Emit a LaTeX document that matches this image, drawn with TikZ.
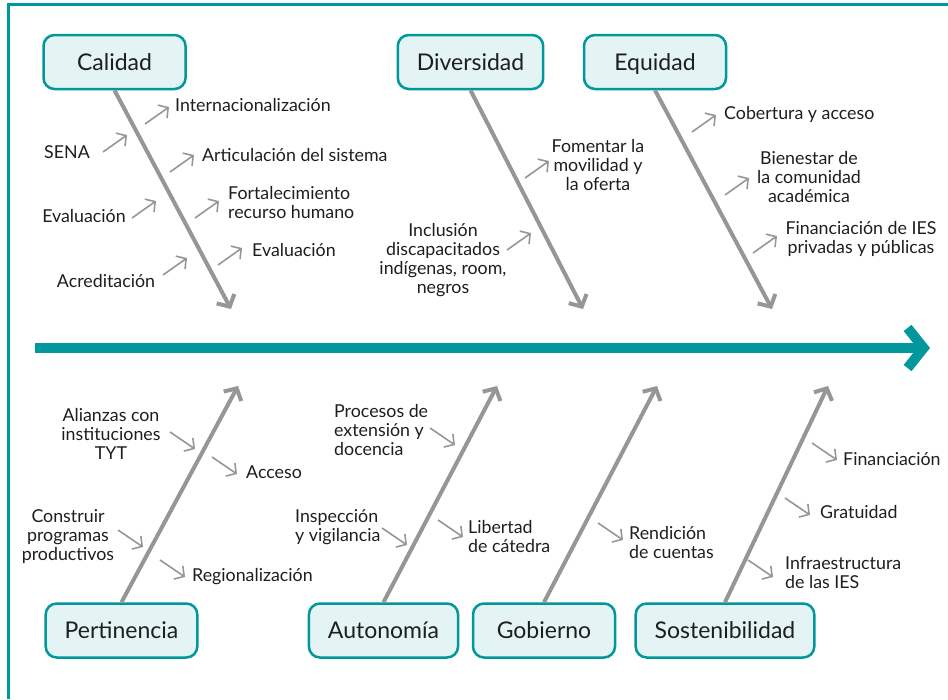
\documentclass[tikz,border=0pt]{standalone}
\usepackage{fontspec}
\setmainfont{Lato}
\usetikzlibrary{arrows.meta}
\definecolor{fbteal}{RGB}{0,151,157}
\definecolor{fblight}{RGB}{228,244,244}
\definecolor{fbgray}{RGB}{150,150,150}
\definecolor{fbtext}{RGB}{30,30,30}

\begin{document}
\begin{tikzpicture}[x=1pt,y=-1pt,
  topic/.style={draw=fbteal,line width=2.5pt,fill=fblight,rounded corners=11pt,
    minimum height=54pt,minimum width=142pt,inner xsep=19pt,
    text height=17pt,text depth=1pt,
    font=\fontsize{23}{27}\selectfont,text=fbtext},
  lbl/.style={font=\fontsize{17.8}{19}\selectfont,text=fbtext,inner sep=0pt,align=center},
  lbll/.style={lbl,align=left,anchor=west},
  bone/.style={draw=fbgray,line width=4pt,-{Straight Barb[length=9pt,width=20pt]}},
  twig/.style={draw=fbgray,line width=1.6pt,-{Straight Barb[length=7pt,width=16pt]}},
  spine/.style={draw=fbteal,line width=10pt,-{Straight Barb[length=16pt,width=40pt]}}]
\useasboundingbox (0,0) rectangle (948,699);
% frame
\draw[fbteal,line width=3pt] (8,699) -- (8,4.5) -- (948,4.5);
% main spine
\coordinate (spL) at (35,348);
\coordinate (spR) at (930,348);
\draw[spine] (spL) -- (spR);
% topics
\node[topic] (cal) at (114.5,62) {Calidad};
\node[topic] (div) at (470.5,62) {Diversidad};
\node[topic] (equ) at (655,62) {Equidad};
\node[topic] (per) at (121.5,630.5) {Pertinencia};
\node[topic] (aut) at (383.5,630.5) {Autonomía};
\node[topic] (gob) at (544,630.5) {Gobierno};
\node[topic] (sos) at (725,630.5) {Sostenibilidad};
% bones
\coordinate (calT) at (231,309);
\coordinate (divT) at (583,309);
\coordinate (equT) at (772,309);
\coordinate (perT) at (238,386);
\coordinate (autT) at (497,386);
\coordinate (gobT) at (657,386);
\coordinate (sosT) at (828,386);
\draw[bone] (cal.south) -- (calT);
\draw[bone] (div.south) -- (divT);
\draw[bone] (equ.south) -- (equT);
\draw[bone] (per.north) -- (perT);
\draw[bone] (aut.north) -- (autT);
\draw[bone] (gob.north) -- (gobT);
\draw[bone] (sos.north) -- (sosT);
% twigs, upper half
\foreach \n/\x/\y in {intl/145/124,sena/103/152,art/170/172,evl/132/218,fort/195/218,
    evr/218/265,acr/163/275,fom/525/178,inc/507/250,cob/692/132,bie/725/195,finE/753/253}
  {\coordinate (\n0) at (\x,\y);
   \draw[twig] (\n0) -- ++(24,-17) coordinate (\n1);}
% twigs, lower half
\foreach \n/\x/\y in {ali/170/432,acc/212/457,con/118/530,reg/160/560,pro/430/428,
    ins/382/528,lib/438/520,ren/598/523,finS/812/443,gra/785/498,inf/748/560}
  {\coordinate (\n0) at (\x,\y);
   \draw[twig] (\n0) -- ++(25,17) coordinate (\n1);}
% labels: Calidad
\node[lbll] (intlL) at (175,105) {Internacionalización};
\node[lbl] (senaL) at (67,152) {SENA};
\node[lbll] (artL) at (202,155) {Articulación del sistema};
\node[lbl] (evlL) at (84,216) {Evaluación};
\node[lbll] (fortL) at (228,203) {Fortalecimiento\\recurso humano};
\node[lbll] (evrL) at (252,250) {Evaluación};
\node[lbl] (acrL) at (106,281) {Acreditación};
% labels: Diversidad
\node[lbl] (fomL) at (598,165) {Fomentar la\\movilidad y\\la oferta};
\node[lbl] (incL) at (443,260) {Inclusión\\discapacitados\\indígenas, room,\\negros};
% labels: Equidad
\node[lbll] (cobL) at (724,114) {Cobertura y acceso};
\node[lbl] (bieL) at (809,177) {Bienestar de\\la comunidad\\académica};
\node[lbl] (finEL) at (861,239) {Financiación de IES\\privadas y públicas};
% labels: Pertinencia
\node[lbl] (aliL) at (111,434) {Alianzas con\\instituciones\\TYT};
\node[lbll] (accL) at (246,472) {Acceso};
\node[lbl] (conL) at (68,537) {Construir\\programas\\productivos};
\node[lbll] (regL) at (192,577) {Regionalización};
% labels: Autonomia
\node[lbll] (proL) at (334,430) {Procesos de\\extensión y\\docencia};
\node[lbll] (insL) at (295,527) {Inspección\\y vigilancia};
\node[lbll] (libL) at (468,537) {Libertad\\de cátedra};
% labels: Gobierno
\node[lbll] (renL) at (629,543) {Rendición\\de cuentas};
% labels: Sostenibilidad
\node[lbll] (finSL) at (843,459) {Financiación};
\node[lbll] (graL) at (820,512) {Gratuidad};
\node[lbll] (infL) at (785,573) {Infraestructura\\de las IES};
\end{tikzpicture}
\end{document}
